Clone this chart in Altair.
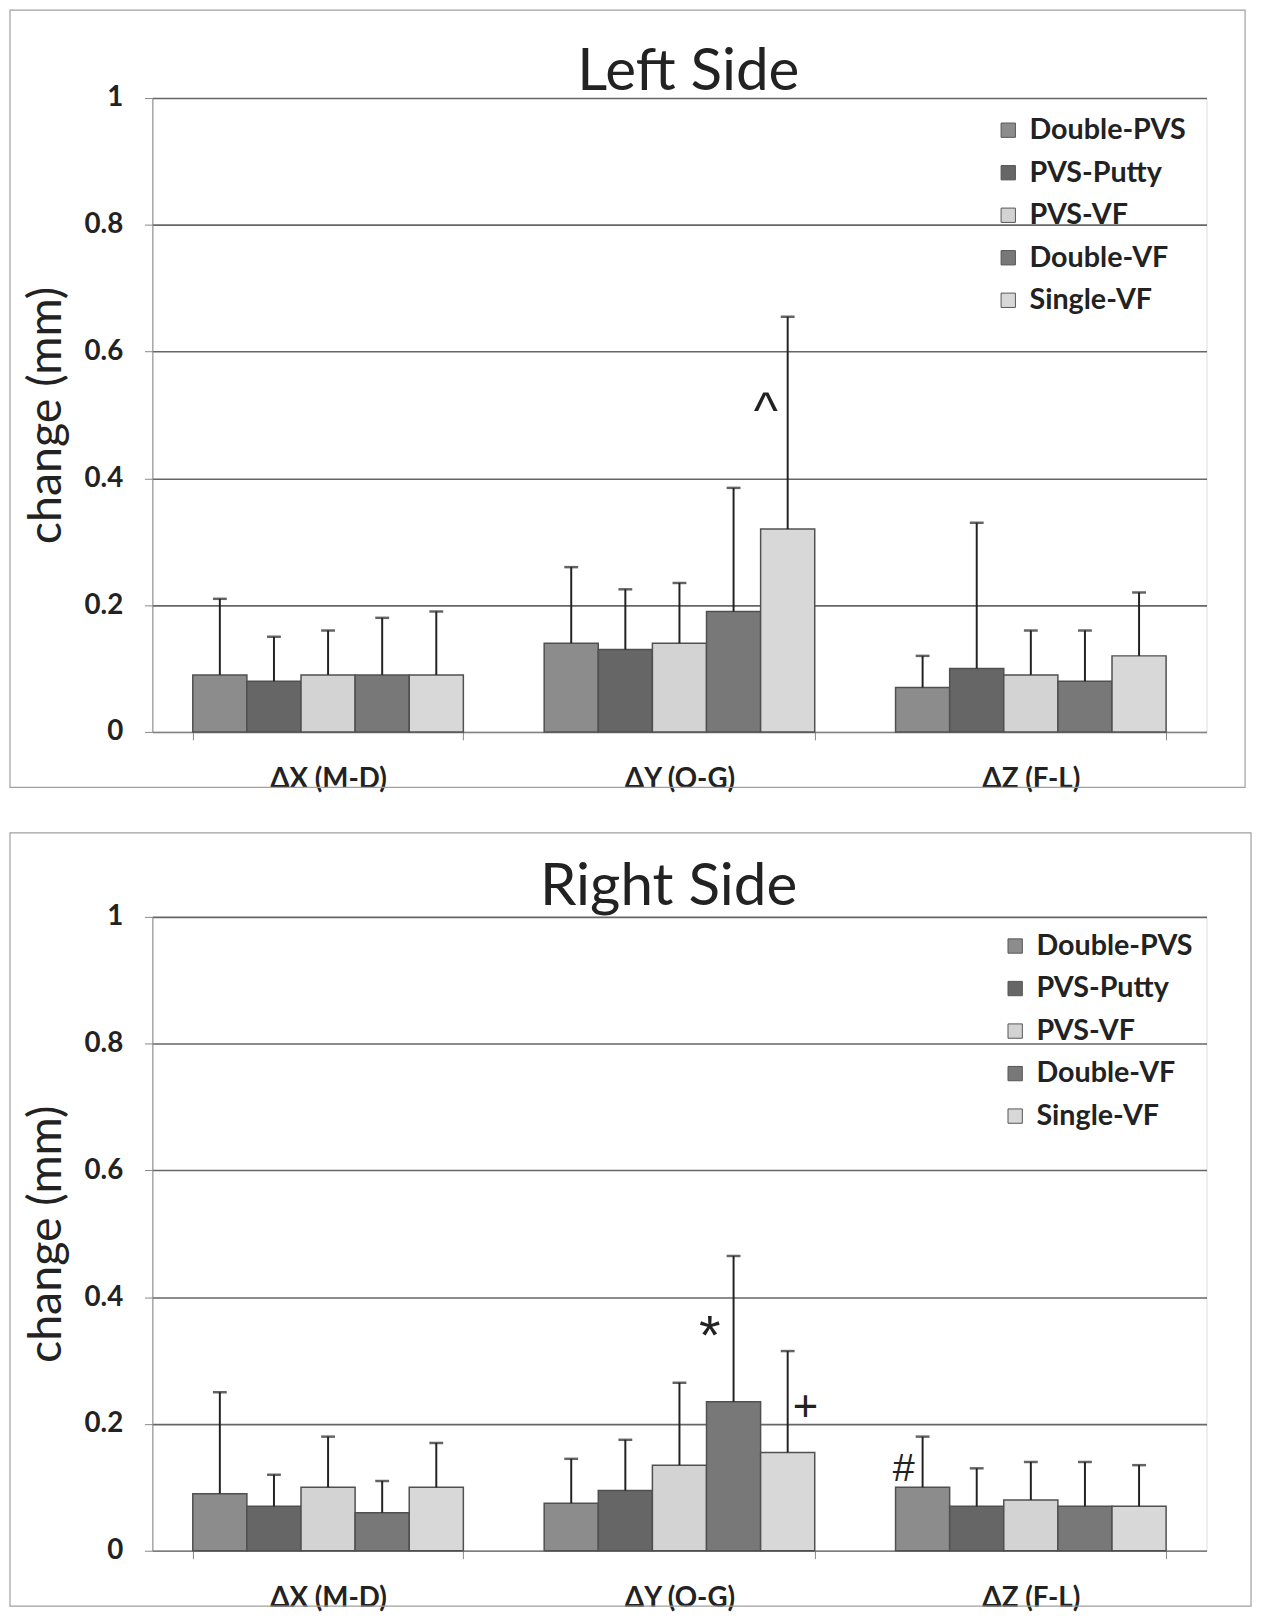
import altair as alt
import pandas as pd

categories = ["ΔX (M-D)", "ΔY (O-G)", "ΔZ (F-L)"]
series = ["Double-PVS", "PVS-Putty", "PVS-VF", "Double-VF", "Single-VF"]
colors = ["#8c8c8c", "#666666", "#d3d3d3", "#787878", "#d8d8d8"]

# mean change per series, one value per category (ΔX, ΔY, ΔZ)
left_mean = {
    "Double-PVS": [0.09, 0.14, 0.07],
    "PVS-Putty": [0.08, 0.13, 0.10],
    "PVS-VF": [0.09, 0.14, 0.09],
    "Double-VF": [0.09, 0.19, 0.08],
    "Single-VF": [0.09, 0.32, 0.12],
}
left_upper = {
    "Double-PVS": [0.21, 0.26, 0.12],
    "PVS-Putty": [0.15, 0.225, 0.33],
    "PVS-VF": [0.16, 0.235, 0.16],
    "Double-VF": [0.18, 0.385, 0.16],
    "Single-VF": [0.19, 0.655, 0.22],
}
right_mean = {
    "Double-PVS": [0.09, 0.075, 0.10],
    "PVS-Putty": [0.07, 0.095, 0.07],
    "PVS-VF": [0.10, 0.135, 0.08],
    "Double-VF": [0.06, 0.235, 0.07],
    "Single-VF": [0.10, 0.155, 0.07],
}
right_upper = {
    "Double-PVS": [0.25, 0.145, 0.18],
    "PVS-Putty": [0.12, 0.175, 0.13],
    "PVS-VF": [0.18, 0.265, 0.14],
    "Double-VF": [0.11, 0.465, 0.14],
    "Single-VF": [0.17, 0.315, 0.135],
}

# annotations: (category, series, y, text)
left_ann = [("ΔY (O-G)", "Single-VF", 0.522, "^")]
right_ann = [
    ("ΔY (O-G)", "Double-VF", 0.358, "*"),
    ("ΔY (O-G)", "Single-VF", 0.232, "+"),
    ("ΔZ (F-L)", "Double-PVS", 0.143, "#"),
]
# glyph styling: text -> (fontSize, dx, dy)
ann_style = {"^": (52, -22, 27), "*": (56, -24, 31), "+": (44, 18, 18), "#": (40, -19, 21)}

W, H = 1066, 641
FONT = "Lato"


def make_panel(title, mean, upper, ann, geo):
    rows = []
    for s in series:
        for i, c in enumerate(categories):
            rows.append({"cat": c, "series": s, "value": mean[s][i], "upper": upper[s][i]})
    df = pd.DataFrame(rows)

    x = alt.X("cat:N", sort=categories,
              scale=alt.Scale(paddingInner=0.23, paddingOuter=0.115),
              axis=alt.Axis(title=None, labelFontSize=28, labelFontWeight="bold",
                            labelFont=FONT, labelColor="#222", labelPadding=26,
                            labelAngle=0, tickBand="extent", tickSize=8,
                            tickColor="#888", domainColor="#888", grid=False))
    xo = alt.XOffset("series:N", sort=series, scale=alt.Scale(paddingInner=0, paddingOuter=0))
    y = alt.Y("value:Q",
              scale=alt.Scale(domain=[0, 1], nice=False),
              axis=alt.Axis(title="change (mm)", titleFontSize=47, titleFont=FONT,
                            titleFontWeight="normal", titleColor="#222", titlePadding=14,
                            values=[0, 0.2, 0.4, 0.6, 0.8, 1], format="~g",
                            labelFontSize=28, labelFontWeight="bold", labelFont=FONT,
                            labelColor="#222", labelPadding=22, tickSize=8,
                            tickColor="#888", domainColor="#888",
                            gridColor="#666666", gridWidth=1.6))
    color = alt.Color("series:N", sort=series,
                      scale=alt.Scale(domain=series, range=colors),
                      legend=alt.Legend(title=None, orient="none", legendX=geo["lx"],
                                        legendY=geo["ly"],
                                        symbolType="square", symbolSize=210,
                                        symbolStrokeColor="#555", symbolStrokeWidth=1,
                                        labelFontSize=29, labelFontWeight="bold",
                                        labelFont=FONT, labelColor="#222",
                                        rowPadding=13, labelOffset=7))

    base = alt.Chart(df)
    bars = base.mark_bar(stroke="#505050", strokeWidth=1.5).encode(x=x, xOffset=xo, y=y, color=color)
    err = base.mark_rule(color="#222", strokeWidth=2).encode(
        x=x, xOffset=xo, y="value:Q", y2="upper:Q")
    caps = base.mark_tick(color="#222", thickness=2.5, size=14, orient="horizontal").encode(
        x=x, xOffset=xo, y="upper:Q")

    layers = [bars, err, caps]
    for (c, s, yv, t) in ann:
        fs, dx, dy = ann_style[t]
        adf = pd.DataFrame({"cat": [c], "series": [s], "y": [yv], "t": [t]})
        layers.append(alt.Chart(adf).mark_text(fontSize=fs, font="Liberation Sans", color="#222",
                                                dx=dx, dy=dy, baseline="alphabetic").encode(
            x=alt.X("cat:N", sort=categories), xOffset=alt.XOffset("series:N", sort=series),
            y="y:Q", text="t:N"))

    one = pd.DataFrame({"a": [0]})
    ttl = alt.Chart(one).mark_text(fontSize=59, font=FONT, color="#222", baseline="middle").encode(
        x=alt.value(W / 2 + geo["tdx"]), y=alt.value(geo["ty"]), text=alt.value(title))
    frame = alt.Chart(one).mark_rect(fillOpacity=0, stroke="#a0a0a0", strokeWidth=1.2).encode(
        x=alt.value(geo["fx"]), x2=alt.value(W + geo["fx2"]),
        y=alt.value(geo["fy"]), y2=alt.value(H + geo["fy2"]))
    layers += [ttl, frame]
    return alt.layer(*layers).properties(width=W, height=H)


top = make_panel("Left Side", left_mean, left_upper, left_ann,
                 {"lx": 851, "ly": 18, "tdx": 9, "ty": -26, "fx": -144, "fx2": 39,
                  "fy": -89, "fy2": 56})
bottom = make_panel("Right Side", right_mean, right_upper, right_ann,
                    {"lx": 858, "ly": 15, "tdx": -11, "ty": -30, "fx": -144, "fx2": 45,
                     "fy": -85, "fy2": 56})

chart = alt.vconcat(top, bottom, spacing=37).resolve_scale(color="independent").resolve_legend(
    color="independent").configure_view(stroke=None).configure(
    background="white", padding={"top": -9, "left": 0, "right": 0, "bottom": 0})

chart.save("out.html", embed_options={"renderer": "svg", "actions": False})
